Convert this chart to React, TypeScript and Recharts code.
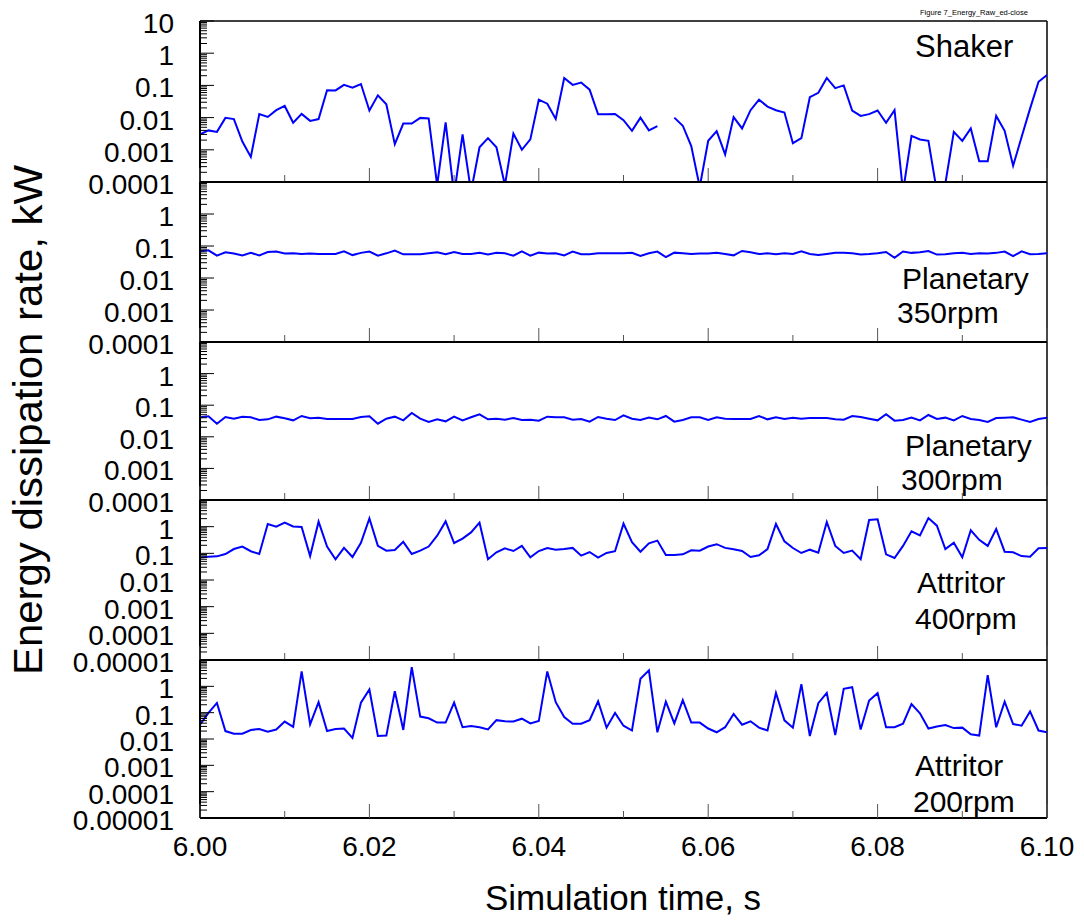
import React from 'react';
import { LineChart, Line, XAxis, YAxis, ReferenceLine } from 'recharts';

// ---------- data ----------
const T0 = 6.0;
const DT = 0.001;

const shaker: (number | null)[] = [
  0.003, 0.004, 0.0036, 0.0098, 0.009, 0.0018, 0.0006, 0.0128, 0.0105, 0.017,
  0.023, 0.0069, 0.013, 0.0079, 0.009, 0.071, 0.07, 0.104, 0.085, 0.11,
  0.0166, 0.049, 0.026, 0.0015, 0.0065, 0.0065, 0.0098, 0.0094, 0.00008, 0.0071,
  0.00004, 0.003, 0.00005, 0.0012, 0.0023, 0.0012, 0.00008, 0.0032, 0.001, 0.0021,
  0.036, 0.027, 0.0091, 0.17, 0.104, 0.123, 0.074, 0.0126, 0.0126, 0.013,
  0.0083, 0.0039, 0.01, 0.004, 0.0054, null, 0.01, 0.0056, 0.0013, 0.00007,
  0.0019, 0.0038, 0.00072, 0.0104, 0.0046, 0.017, 0.036, 0.022, 0.017, 0.0144,
  0.0016, 0.0023, 0.043, 0.059, 0.17, 0.082, 0.1, 0.0166, 0.0113, 0.0128,
  0.0166, 0.0069, 0.017, 0.00005, 0.0027, 0.0021, 0.0019, 0.00005, 0.00009, 0.0036,
  0.0019, 0.0046, 0.00044, 0.00044, 0.0113, 0.0039, 0.00032, 0.0025, 0.019, 0.13,
  0.21,
];

const planetary350: number[] = [
  0.068, 0.073, 0.05, 0.064, 0.058, 0.051, 0.061, 0.051, 0.065, 0.067,
  0.058, 0.059, 0.056, 0.058, 0.056, 0.056, 0.056, 0.068, 0.052, 0.061,
  0.067, 0.05, 0.059, 0.072, 0.055, 0.055, 0.055, 0.059, 0.064, 0.055,
  0.065, 0.056, 0.056, 0.061, 0.054, 0.061, 0.059, 0.05, 0.068, 0.05,
  0.062, 0.058, 0.059, 0.051, 0.067, 0.055, 0.055, 0.059, 0.059, 0.059,
  0.059, 0.061, 0.049, 0.059, 0.067, 0.045, 0.062, 0.059, 0.056, 0.058,
  0.058, 0.062, 0.056, 0.051, 0.07, 0.064, 0.056, 0.059, 0.055, 0.059,
  0.056, 0.068, 0.056, 0.052, 0.056, 0.061, 0.061, 0.059, 0.054, 0.056,
  0.059, 0.065, 0.043, 0.067, 0.061, 0.064, 0.07, 0.054, 0.055, 0.059,
  0.061, 0.056, 0.059, 0.058, 0.061, 0.067, 0.048, 0.068, 0.055, 0.056,
  0.059,
];

const planetary300: number[] = [
  0.0414, 0.0445, 0.026, 0.0424, 0.0375, 0.0434, 0.0414, 0.034, 0.0357, 0.0434,
  0.0385, 0.0332, 0.0456, 0.0385, 0.0404, 0.0366, 0.0366, 0.0366, 0.0366, 0.0424,
  0.0445, 0.026, 0.0375, 0.0434, 0.0332, 0.0567, 0.0375, 0.0294, 0.0357, 0.0309,
  0.0434, 0.0332, 0.0414, 0.0515, 0.0357, 0.0375, 0.0349, 0.0394, 0.034, 0.0349,
  0.0324, 0.0434, 0.0414, 0.0414, 0.0349, 0.0366, 0.0301, 0.0424, 0.0375, 0.034,
  0.048, 0.0375, 0.034, 0.0404, 0.0357, 0.0456, 0.0301, 0.034, 0.0414, 0.0414,
  0.034, 0.0414, 0.0375, 0.0366, 0.0366, 0.0366, 0.0456, 0.0357, 0.0414, 0.0366,
  0.0404, 0.0375, 0.0394, 0.0394, 0.0394, 0.0357, 0.0349, 0.0456, 0.0424, 0.0375,
  0.0332, 0.0515, 0.0324, 0.034, 0.0404, 0.0332, 0.049, 0.0366, 0.0404, 0.0332,
  0.0456, 0.0366, 0.034, 0.0294, 0.0394, 0.0404, 0.0414, 0.0349, 0.0294, 0.0366,
  0.0404,
];

const attritor400: number[] = [
  0.069, 0.075, 0.077, 0.094, 0.145, 0.18, 0.12, 0.094, 1.26, 1.0,
  1.41, 1.02, 0.98, 0.079, 1.54, 0.178, 0.06, 0.16, 0.073, 0.25,
  2.05, 0.19, 0.126, 0.133, 0.27, 0.094, 0.126, 0.18, 0.46, 1.58,
  0.244, 0.355, 0.61, 1.41, 0.06, 0.109, 0.154, 0.122, 0.19, 0.071,
  0.122, 0.158, 0.137, 0.145, 0.16, 0.082, 0.112, 0.069, 0.103, 0.12,
  1.3, 0.26, 0.115, 0.237, 0.3, 0.087, 0.087, 0.092, 0.13, 0.126,
  0.18, 0.22, 0.16, 0.141, 0.122, 0.073, 0.084, 0.145, 1.26, 0.28,
  0.158, 0.103, 0.137, 0.106, 1.5, 0.19, 0.103, 0.126, 0.06, 1.78,
  1.88, 0.092, 0.067, 0.19, 0.67, 0.47, 2.1, 1.09, 0.145, 0.25,
  0.071, 0.73, 0.32, 0.19, 0.82, 0.115, 0.109, 0.079, 0.075, 0.154,
  0.158,
];

const attritor200: number[] = [
  0.035, 0.098, 0.234, 0.02, 0.016, 0.016, 0.022, 0.024, 0.019, 0.023,
  0.046, 0.029, 3.69, 0.036, 0.25, 0.02, 0.024, 0.025, 0.011, 0.24,
  0.76, 0.013, 0.0135, 0.65, 0.022, 5.4, 0.071, 0.061, 0.042, 0.042,
  0.24, 0.028, 0.031, 0.028, 0.023, 0.052, 0.047, 0.046, 0.059, 0.039,
  0.048, 3.69, 0.25, 0.068, 0.038, 0.038, 0.052, 0.27, 0.027, 0.098,
  0.032, 0.021, 1.94, 4.03, 0.018, 0.26, 0.039, 0.3, 0.042, 0.042,
  0.025, 0.018, 0.028, 0.089, 0.035, 0.047, 0.027, 0.021, 0.56, 0.051,
  0.027, 1.21, 0.013, 0.23, 0.56, 0.014, 0.8, 0.93, 0.023, 0.29,
  0.55, 0.028, 0.028, 0.038, 0.21, 0.094, 0.025, 0.03, 0.034, 0.026,
  0.027, 0.015, 0.0135, 2.67, 0.028, 0.26, 0.037, 0.032, 0.112, 0.021,
  0.018,
];

const xTicks = [6.0, 6.01, 6.02, 6.03, 6.04, 6.05, 6.06, 6.07, 6.08, 6.09, 6.1];
const xTickLabels = ['6.00', '', '6.02', '', '6.04', '', '6.06', '', '6.08', '', '6.10'];
// labels for decade exponents 1 .. -5
const yDecadeExps = [1, 0, -1, -2, -3, -4, -5];
const yDecadeLabels = ['10', '1', '0.1', '0.01', '0.001', '0.0001', '0.00001'];

const panelNames = [
  ['Shaker'],
  ['Planetary', '350rpm'],
  ['Planetary', '300rpm'],
  ['Attritor', '400rpm'],
  ['Attritor', '200rpm'],
];

const xTitle = 'Simulation time, s';
const yTitle = 'Energy dissipation rate, kW';
const figTag = 'Figure 7_Energy_Raw_ed-close';

// ---------- layout / style ----------
const W = 1084;
const H = 922;
const PLOT_LEFT = 200;
const PLOT_RIGHT = 1047;
const XAXIS_H = 30;
const FONT = '"Liberation Sans", Arial, Helvetica, sans-serif';
const BLUE = '#0000ff';

type Panel = {
  series: (number | null)[];
  top: number;
  bottom: number;
  minExp: number;
  showTopLabel: boolean;
  showXLabels: boolean;
  labelPos: { x: number; y: number; size: number }[];
};

const panels: Panel[] = [
  { series: shaker, top: 21, bottom: 182, minExp: -4, showTopLabel: true, showXLabels: false,
    labelPos: [{ x: 915, y: 57, size: 31 }] },
  { series: planetary350, top: 182, bottom: 342, minExp: -4, showTopLabel: false, showXLabels: false,
    labelPos: [{ x: 902, y: 289, size: 30 }, { x: 897, y: 323, size: 30 }] },
  { series: planetary300, top: 342, bottom: 500, minExp: -4, showTopLabel: false, showXLabels: false,
    labelPos: [{ x: 905, y: 456, size: 30 }, { x: 901, y: 490, size: 30 }] },
  { series: attritor400, top: 500, bottom: 660, minExp: -5, showTopLabel: false, showXLabels: false,
    labelPos: [{ x: 917, y: 593, size: 30 }, { x: 915, y: 629, size: 30 }] },
  { series: attritor200, top: 660, bottom: 818, minExp: -5, showTopLabel: false, showXLabels: true,
    labelPos: [{ x: 915, y: 776, size: 30 }, { x: 913, y: 812, size: 30 }] },
];

function logTicks(minExp: number): number[] {
  const out: number[] = [];
  for (let e = minExp; e <= 0; e++) {
    for (let k = 1; k <= 9; k++) out.push(Number((k * Math.pow(10, e)).toPrecision(6)));
  }
  out.push(10);
  return out;
}

function decadeLabel(v: number): string | null {
  const lg = Math.log10(v);
  const r = Math.round(lg);
  if (Math.abs(lg - r) > 1e-6) return null;
  const idx = yDecadeExps.indexOf(r);
  return idx >= 0 ? yDecadeLabels[idx] : null;
}

const YTick = (props: any) => {
  const { x, y, payload, showTopLabel } = props;
  const v = payload.value as number;
  const lbl = decadeLabel(v);
  const major = lbl !== null;
  const len = major ? 14 : 7;
  const showText = major && (v < 5 || showTopLabel);
  return (
    <g>
      <line x1={x} x2={x + len} y1={y} y2={y} stroke="#000" strokeWidth={1} />
      {showText && (
        <text x={x - 26} y={y + 12} textAnchor="end" fontSize={28} fontFamily={FONT} fill="#000">
          {lbl}
        </text>
      )}
    </g>
  );
};

const XTick = (props: any) => {
  const { x, y, payload, showLabels } = props;
  const idx = xTicks.findIndex((t) => Math.abs(t - payload.value) < 1e-9);
  const label = idx >= 0 ? xTickLabels[idx] : '';
  const len = label ? 14 : 7;
  return (
    <g>
      <line x1={x} x2={x} y1={y} y2={y - len} stroke="#555" strokeWidth={1} />
      {showLabels && label && (
        <text x={x} y={y + 38} textAnchor="middle" fontSize={28} fontFamily={FONT} fill="#000">
          {label}
        </text>
      )}
    </g>
  );
};

function PanelChart({ p }: { p: Panel }) {
  const data = p.series.map((v, i) => ({ t: T0 + i * DT, v }));
  const ticks = logTicks(p.minExp);
  const minV = Math.pow(10, p.minExp);
  return (
    <div style={{ position: 'absolute', left: 0, top: 0, width: W, height: H, pointerEvents: 'none' }}>
      <LineChart
        width={W}
        height={H}
        data={data}
        margin={{ top: p.top, bottom: H - p.bottom - XAXIS_H, left: 0, right: W - PLOT_RIGHT }}
      >
        <XAxis
          dataKey="t"
          type="number"
          domain={[6.0, 6.1]}
          ticks={xTicks}
          interval={0}
          height={XAXIS_H}
          tickSize={0}
          tickMargin={0}
          tickLine={false}
          axisLine={{ stroke: '#000', strokeWidth: 2 }}
          tick={(tp: any) => <XTick {...tp} showLabels={p.showXLabels} />}
          allowDataOverflow
        />
        <YAxis
          scale="log"
          type="number"
          domain={[minV, 10]}
          ticks={ticks}
          interval={0}
          width={PLOT_LEFT}
          tickSize={0}
          tickMargin={0}
          tickLine={false}
          axisLine={{ stroke: '#000', strokeWidth: 2 }}
          tick={(tp: any) => <YTick {...tp} showTopLabel={p.showTopLabel} />}
          allowDataOverflow
        />
        <ReferenceLine y={10} stroke="#000" strokeWidth={1.5} />
        <ReferenceLine x={6.1} stroke="#000" strokeWidth={1.5} />
        <Line
          type="linear"
          dataKey="v"
          stroke={BLUE}
          strokeWidth={2}
          dot={false}
          activeDot={false}
          connectNulls={false}
          isAnimationActive={false}
        />
      </LineChart>
    </div>
  );
}

export default function App() {
  return (
    <div style={{ position: 'absolute', left: 0, top: 0, width: W, height: H, background: '#fff' }}>
      {panels.map((p, i) => (
        <PanelChart key={i} p={p} />
      ))}
      <svg
        width={W}
        height={H}
        style={{ position: 'absolute', left: 0, top: 0, pointerEvents: 'none' }}
      >
        <text x={920} y={15} fontSize={8} fontFamily={FONT} textLength={108} lengthAdjust="spacingAndGlyphs" fill="#000">
          {figTag}
        </text>
        {panels.map((p, i) =>
          p.labelPos.map((lp, j) => (
            <text key={`${i}-${j}`} x={lp.x} y={lp.y} fontSize={lp.size} fontFamily={FONT} fill="#000">
              {panelNames[i][j]}
            </text>
          ))
        )}
        <text x={623} y={910} textAnchor="middle" fontSize={35} fontFamily={FONT} fill="#000">
          {xTitle}
        </text>
        <text
          transform="translate(42,420) rotate(-90)"
          textAnchor="middle"
          fontSize={40}
          fontFamily={FONT}
          textLength={510}
          lengthAdjust="spacingAndGlyphs"
          fill="#000"
        >
          {yTitle}
        </text>
      </svg>
    </div>
  );
}
